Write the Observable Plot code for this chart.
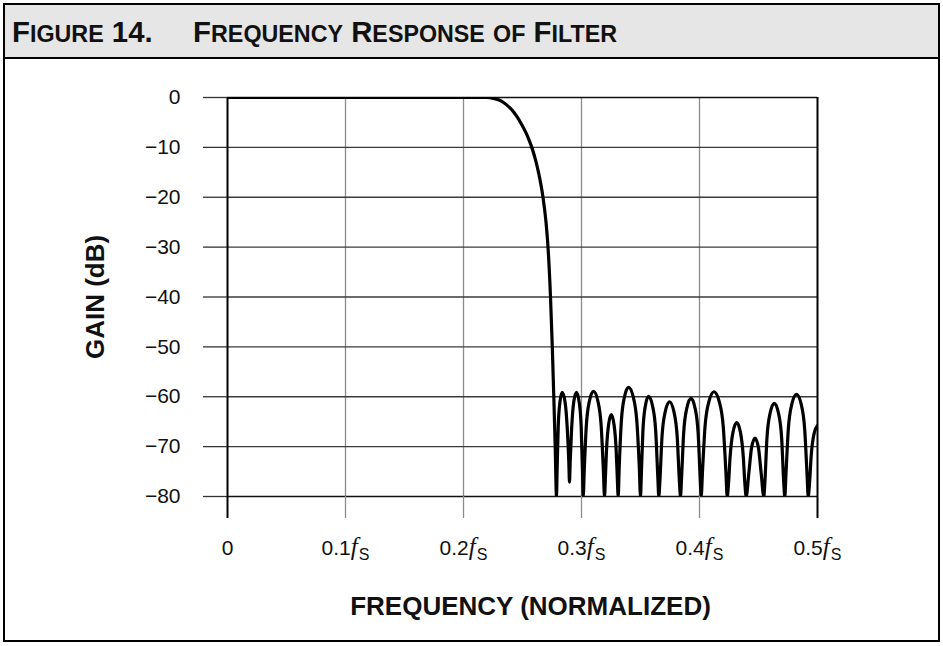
<!DOCTYPE html>
<html>
<head>
<meta charset="utf-8">
<script src="https://cdn.jsdelivr.net/npm/d3@7"></script>
<script src="https://cdn.jsdelivr.net/npm/@observablehq/plot@0.6"></script>
<style>
  html, body { margin: 0; padding: 0; background: #fff; }
  body { width: 943px; height: 646px; position: relative; overflow: hidden; }
  #fig { position: absolute; left: 3px; top: 3px; width: 933px; height: 635px; border: 2px solid #000; background: #fff; }
  #title { height: 52px; line-height: 52px; background: #e6e6e6; border-bottom: 2px solid #000;
    font-family: "Liberation Sans", Arial, sans-serif; font-weight: bold; color: #111; white-space: nowrap;
    position: relative; }
  #titleInner { position: absolute; left: 7px; top: 1px; transform-origin: 0 50%; display: inline-block; }
  #titleInner .big { font-size: 29px; }
  #titleInner .sm { font-size: 23px; }
  #titleInner .gap { display: inline-block; width: 40px; }
  #chart svg { display: block; overflow: visible; }
</style>
</head>
<body>
<div id="fig">
  <div id="title"><span id="titleInner"></span></div>
  <div id="chart"></div>
</div>
<script>
// Title parts
const titleLead = "Figure 14.";
const titleMain = "Frequency Response of Filter";

// Axis ticks
const xTickValues = [0, 0.1, 0.2, 0.3, 0.4, 0.5];
const xTickLabels = ["0", "0.1", "0.2", "0.3", "0.4", "0.5"];
const yTickValues = [0, -10, -20, -30, -40, -50, -60, -70, -80];
const yTickLabels = ["0", "−10", "−20", "−30", "−40", "−50", "−60", "−70", "−80"];
const xLabel = "FREQUENCY (NORMALIZED)";
const yLabel = "GAIN (dB)";

// Passband and transition (normalized frequency, dB)
const passFreq = [0, 0.21949, 0.22627, 0.23008, 0.23390, 0.23898, 0.24280, 0.24576, 0.24831,
  0.25068, 0.25280, 0.25551, 0.25788, 0.26102, 0.26356, 0.26737, 0.26992, 0.27161,
  0.27373, 0.27525, 0.27653, 0.27771, 0.27881];
const passGain = [0, 0, -0.25, -0.5, -1, -2, -3, -4, -5,
  -6, -7, -8.5, -10, -12.5, -15, -20, -25, -30,
  -40, -50, -60, -70, -80];

// Stopband ripple lobes (normalized frequency, dB; -80 = clipped null)
const stopFreq = [
  0.27930, 0.28026, 0.28171, 0.28364, 0.28610, 0.28797, 0.28924, 0.28983,
  0.29042, 0.29161, 0.29339, 0.29576, 0.29803, 0.29974, 0.30087, 0.30144,
  0.30231, 0.30406, 0.30668, 0.31017, 0.31390, 0.31669, 0.31856, 0.31949,
  0.32036, 0.32122, 0.32295, 0.32525, 0.32759, 0.32935, 0.33023, 0.33110,
  0.33197, 0.33372, 0.33634, 0.33983, 0.34390, 0.34695, 0.34898, 0.35000,
  0.35068, 0.35203, 0.35407, 0.35678, 0.36027, 0.36289, 0.36464, 0.36551,
  0.36642, 0.36823, 0.37095, 0.37458, 0.37831, 0.38110, 0.38297, 0.38390,
  0.38479, 0.38657, 0.38924, 0.39280, 0.39625, 0.39885, 0.40058, 0.40144,
  0.40253, 0.40469, 0.40795, 0.41229, 0.41676, 0.42012, 0.42236, 0.42347,
  0.42466, 0.42589, 0.42831, 0.43153, 0.43475, 0.43716, 0.43839, 0.43958,
  0.44181, 0.44407, 0.44703, 0.45000, 0.45225, 0.45449,
  0.45538, 0.45716, 0.45983, 0.46339, 0.46695, 0.46962, 0.47140, 0.47229,
  0.47328, 0.47526, 0.47824, 0.48220, 0.48617, 0.48914, 0.49113, 0.49212,
  0.49339, 0.49466, 0.49720, 0.5];
const stopGain = [
  -75.1, -66.1, -61.1, -59.1, -61.1, -66.5, -73, -77.1,
  -73, -66.5, -61.1, -59.1, -61.1, -66.1, -75.1, -80,
  -74.9, -65.9, -60.9, -58.9, -60.9, -65.9, -74.9, -80,
  -75.6, -70.6, -65.6, -63.6, -65.6, -70.6, -75.6, -80,
  -74.1, -65.1, -60.1, -58.1, -60.1, -65.1, -74.1, -80,
  -75.9, -66.9, -61.9, -59.9, -61.9, -66.9, -75.9, -80,
  -77, -68, -63, -61, -63, -68, -77, -80,
  -76.3, -67.3, -62.3, -60.3, -62.3, -67.3, -76.3, -80,
  -75, -66, -61, -59, -61, -66, -75, -80,
  -77.2, -72.2, -67.2, -65.2, -67.2, -72.2, -77.2, -80,
  -75.3, -70.3, -68.3, -70.3, -75.3, -80,
  -77.3, -68.3, -63.3, -61.3, -63.3, -68.3, -77.3, -80,
  -75.5, -66.5, -61.5, -59.5, -61.5, -66.5, -75.5, -80,
  -76.8, -71.8, -67.3, -65.8];

// ---- Title (small caps built from spans, fitted to the reference width) ----
const inner = document.getElementById("titleInner");
function addSmallCaps(str) {
  for (const ch of str) {
    const sp = document.createElement("span");
    const lower = ch !== ch.toUpperCase();
    sp.className = lower ? "sm" : "big";
    sp.textContent = ch.toUpperCase();
    inner.appendChild(sp);
  }
}
addSmallCaps(titleLead);
const gapEl = document.createElement("span"); gapEl.className = "gap"; inner.appendChild(gapEl);
addSmallCaps(titleMain);
const natural = inner.getBoundingClientRect().width;
inner.style.transform = `scaleX(${605 / natural})`;

// ---- Chart ----
const freq = passFreq.concat(stopFreq);
const gain = passGain.concat(stopGain);
const rows = freq.map((f, i) => ({f, g: gain[i]}));

const xFmt = d => xTickLabels[xTickValues.indexOf(d)];
const yFmt = d => yTickLabels[yTickValues.indexOf(d)];
const tickFont = 21;

const chart = Plot.plot({
  width: 933,
  height: 581,
  marginLeft: 222,
  marginRight: 121,
  marginTop: 38,
  marginBottom: 144,
  x: {domain: [0, 0.5]},
  y: {domain: [-80, 0]},
  style: {fontFamily: "'Liberation Sans', Arial, sans-serif", background: "transparent", color: "#111"},
  marks: [
    Plot.ruleX(xTickValues.slice(1, 5), {stroke: "#8c8c8c", strokeWidth: 1.3}),
    Plot.ruleY(yTickValues.slice(1, 8), {stroke: "#3a3a3a", strokeWidth: 1.3}),
    Plot.ruleY([0, -80], {stroke: "#111", strokeWidth: 1.6}),
    Plot.ruleX([0, 0.5], {stroke: "#000", strokeWidth: 2}),
    Plot.axisY({ticks: yTickValues, tickSize: 24, tickPadding: 23, tickFormat: yFmt,
      fontSize: tickFont, stroke: "#333", strokeWidth: 1.3, fill: "#111", label: null}),
    Plot.axisX({ticks: [0, 0.5], tickSize: 22, tickPadding: 22, tickFormat: xFmt,
      fontSize: tickFont, stroke: "#000", strokeWidth: 2, fill: "#111", label: null}),
    Plot.axisX({ticks: xTickValues.slice(1, 5), tickSize: 22, tickPadding: 22, tickFormat: xFmt,
      fontSize: tickFont, stroke: "#8c8c8c", strokeWidth: 1.3, fill: "#111", label: null}),
    Plot.line(rows, {x: "f", y: "g", stroke: "#000", strokeWidth: 3.2, curve: "monotone-x", clip: true}),
    Plot.text([yLabel], {text: d => d, frameAnchor: "left", textAnchor: "middle", dx: -132, rotate: -90,
      fontSize: 26, fontWeight: "bold", fill: "#111"}),
    Plot.text([xLabel], {text: d => d, frameAnchor: "bottom", textAnchor: "middle", lineAnchor: "middle",
      dx: 8, dy: 110, fontSize: 26, fontWeight: "bold", fill: "#111"})
  ]
});

document.getElementById("chart").appendChild(chart);

// Render "0.1fS" style labels: number + italic f + subscript S
const NS = "http://www.w3.org/2000/svg";
chart.querySelectorAll('g[aria-label="x-axis tick label"] text').forEach(t => {
  const s = t.textContent;
  if (s === "0") return;
  const f = document.createElementNS(NS, "tspan");
  f.setAttribute("font-family", "'Liberation Serif', 'DejaVu Serif', serif");
  f.setAttribute("font-style", "italic");
  f.setAttribute("font-size", "25");
  f.textContent = "f";
  const sub = document.createElementNS(NS, "tspan");
  sub.setAttribute("font-size", "16");
  sub.setAttribute("dy", "5");
  sub.setAttribute("dx", "1");
  sub.textContent = "S";
  t.appendChild(f);
  t.appendChild(sub);
});
</script>
</body>
</html>
